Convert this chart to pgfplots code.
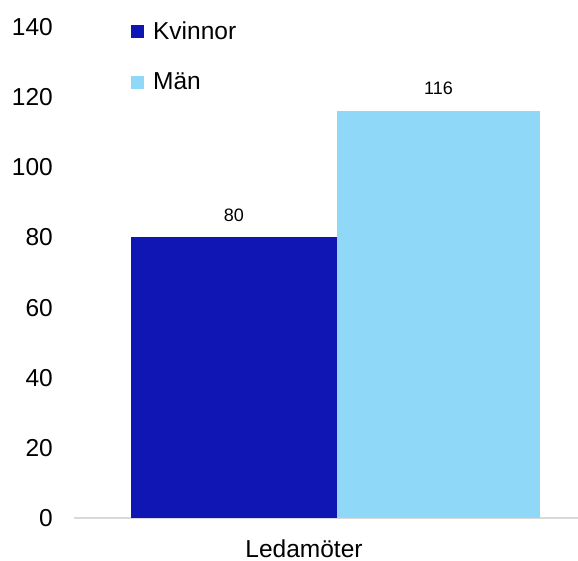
\documentclass[border=0pt]{standalone}
\usepackage{fontspec}
\setmainfont{Liberation Sans}
\usepackage{pgfplots}
\pgfplotsset{compat=1.18}
\definecolor{kvinnor}{HTML}{1016B4}
\definecolor{man}{HTML}{8FD8F7}
\definecolor{axisgray}{HTML}{D9D9D9}
\begin{document}
\begin{tikzpicture}
\useasboundingbox (-74pt,-42pt) rectangle (504pt,518pt);
\begin{axis}[
    scale only axis,
    width=504pt, height=491pt,
    xmin=74, xmax=578,
    ymin=0, ymax=140,
    ytick={0,20,40,60,80,100,120,140},
    xtick={304},
    xticklabels={Ledam\"oter},
    major tick length=0pt,
    axis lines*=left,
    y axis line style={draw=none},
    x axis line style={draw=axisgray, line width=2.5pt, -},
    /pgf/number format/assume math mode=true,
    ticklabel style={font=\fontsize{24.5}{28}\selectfont},
    yticklabel style={anchor=east, inner sep=0pt, xshift=-21pt},
    xticklabel style={anchor=north, inner sep=0pt, yshift=-22pt},
    clip=false,
    nodes near coords,
    nodes near coords style={font=\fontsize{18}{20}\selectfont, anchor=south, inner sep=0pt, yshift=16pt},
    legend style={at={(rel axis cs:0.113,1.015)}, anchor=north west, draw=none, fill=none,
        font=\fontsize{24.5}{28}\selectfont, inner sep=0pt, row sep=28pt,
        /tikz/every odd column/.append style={column sep=7pt}},
    legend cell align=left,
    legend image code/.code={\fill[#1] (0pt,-6.5pt) rectangle (13pt,6.5pt);},
]
\addplot[ybar, bar width=206, bar shift=0, fill=kvinnor, draw=none] coordinates {(234,80)};
\addlegendentry{Kvinnor}
\addplot[ybar, bar width=203, bar shift=0, fill=man, draw=none] coordinates {(438.5,116)};
\addlegendentry{M\"an}
\end{axis}
\end{tikzpicture}
\end{document}
